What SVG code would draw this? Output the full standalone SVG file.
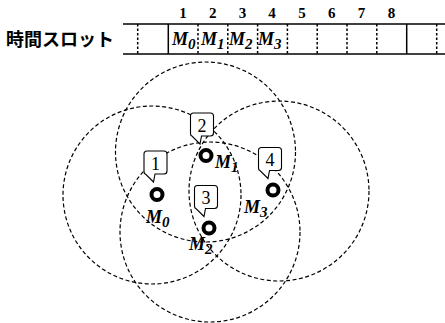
<svg xmlns="http://www.w3.org/2000/svg" width="445" height="323" viewBox="0 0 445 323">
<style>
.rng{fill:none;stroke:#000;stroke-width:1.2;stroke-dasharray:4 2.5}
.tl{stroke:#000;stroke-width:1.5;fill:none}
.td{stroke:#000;stroke-width:1.5;stroke-dasharray:2.5 2;fill:none}
.num{font-family:"Liberation Serif",serif;font-weight:bold;font-size:15px;text-anchor:middle}
.m{font-family:"Liberation Serif",serif;font-weight:bold;font-style:italic;font-size:18px}
.sub{font-size:15px}
.bub{fill:#fff;stroke:#000;stroke-width:1.1}
.bt{font-family:"Liberation Serif",serif;font-size:18px;text-anchor:middle}
.node{fill:#fff;stroke:#000;stroke-width:4}
.jp{font-family:"Noto Sans CJK JP",sans-serif;font-weight:bold;font-size:18px}
</style>
<defs>
<path id="bubble" d="M3,0 H20 Q23,0 23,3 V20 Q23,23 20,23 H11 L9.5,31 L1.5,23 Q0,23 0,20 V3 Q0,0 3,0 Z"/>
</defs>
<rect width="445" height="323" fill="#fff"/>
<g id="table">
<text class="jp" x="6" y="46">時間スロット</text>
<line class="tl" x1="123" y1="24" x2="445" y2="24"/>
<line class="tl" x1="123" y1="54" x2="445" y2="54"/>
<line class="td" x1="137.7" y1="24" x2="137.7" y2="54"/>
<line class="tl" x1="168.3" y1="24" x2="168.3" y2="54"/>
<line class="td" x1="198" y1="24" x2="198" y2="54"/>
<line class="td" x1="227.8" y1="24" x2="227.8" y2="54"/>
<line class="td" x1="257.6" y1="24" x2="257.6" y2="54"/>
<line class="td" x1="287.4" y1="24" x2="287.4" y2="54"/>
<line class="td" x1="317.2" y1="24" x2="317.2" y2="54"/>
<line class="td" x1="347" y1="24" x2="347" y2="54"/>
<line class="td" x1="376.8" y1="24" x2="376.8" y2="54"/>
<line class="tl" x1="406.7" y1="24" x2="406.7" y2="54"/>
<line class="td" x1="436.7" y1="24" x2="436.7" y2="54"/>
<text class="num" x="183" y="18">1</text>
<text class="num" x="212.8" y="18">2</text>
<text class="num" x="242.6" y="18">3</text>
<text class="num" x="272" y="18">4</text>
<text class="num" x="302" y="18">5</text>
<text class="num" x="331.8" y="18">6</text>
<text class="num" x="361.6" y="18">7</text>
<text class="num" x="391.4" y="18">8</text>
<text class="m" x="172" y="45">M<tspan class="sub" dy="4">0</tspan></text>
<text class="m" x="201" y="45">M<tspan class="sub" dy="4">1</tspan></text>
<text class="m" x="229" y="45">M<tspan class="sub" dy="4">2</tspan></text>
<text class="m" x="258" y="45">M<tspan class="sub" dy="4">3</tspan></text>
</g>
<g id="ranges">
<circle class="rng" cx="205.5" cy="152" r="90"/>
<circle class="rng" cx="152" cy="195" r="89"/>
<circle class="rng" cx="279" cy="191" r="90"/>
<circle class="rng" cx="210" cy="232" r="90"/>
</g>
<g id="node-M0">
<circle class="node" cx="157" cy="194.5" r="5.5"/>
<text class="m" x="146" y="223">M<tspan class="sub" dy="4">0</tspan></text>
<use href="#bubble" class="bub" x="144" y="151"/>
<text class="bt" x="155.5" y="169.5">1</text>
</g>
<g id="node-M1">
<circle class="node" cx="206" cy="155.5" r="5.5"/>
<text class="m" x="215" y="168">M<tspan class="sub" dy="4">1</tspan></text>
<use href="#bubble" class="bub" x="190.5" y="113"/>
<text class="bt" x="202" y="131.5">2</text>
</g>
<g id="node-M2">
<circle class="node" cx="209" cy="228" r="5.5"/>
<text class="m" x="189" y="250">M<tspan class="sub" dy="4">2</tspan></text>
<use href="#bubble" class="bub" x="194.5" y="185.5"/>
<text class="bt" x="206" y="204">3</text>
</g>
<g id="node-M3">
<circle class="node" cx="273" cy="190" r="5.5"/>
<text class="m" x="244" y="213">M<tspan class="sub" dy="4">3</tspan></text>
<use href="#bubble" class="bub" x="258.5" y="147.5"/>
<text class="bt" x="270" y="166">4</text>
</g>
</svg>
